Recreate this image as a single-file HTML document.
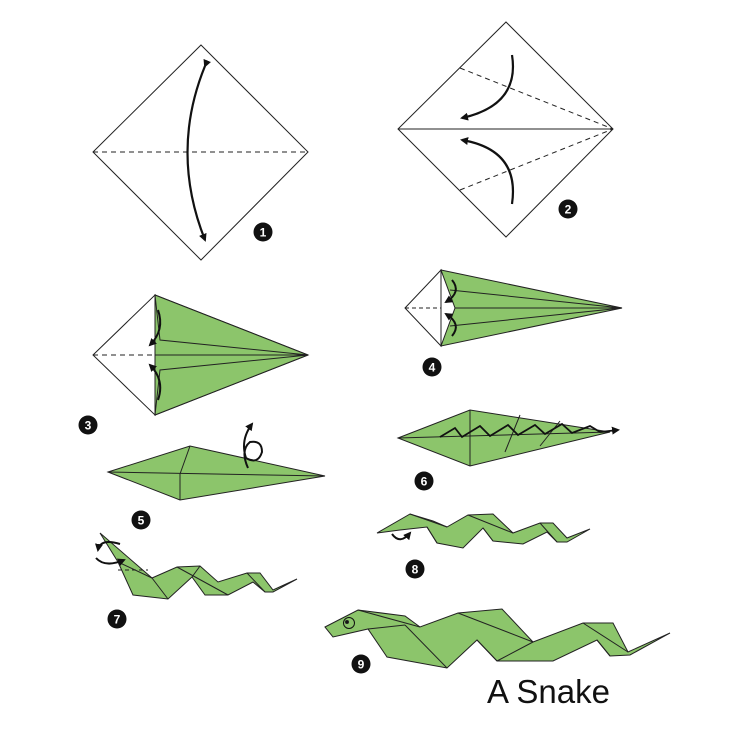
<!DOCTYPE html>
<html><head><meta charset="utf-8"><style>
html,body{margin:0;padding:0;background:#fff;width:736px;height:736px;overflow:hidden}
svg{display:block}
text{font-family:"Liberation Sans",sans-serif}
</style></head><body>
<svg width="736" height="736" viewBox="0 0 736 736">
<defs>
<marker id="ah" markerWidth="8" markerHeight="8" refX="6" refY="4" orient="auto" markerUnits="userSpaceOnUse"><path d="M0,0 L8,4 L0,8 Z" fill="#111"/></marker>
</defs>
<g stroke="#222" stroke-width="1" fill="none">
<!-- step 1 -->
<g>
<polygon points="201,45 308,152 201,260 93,152" fill="#fff"/>
<line x1="93" y1="152" x2="308" y2="152" stroke-dasharray="5,4"/>
<path d="M205,66 Q170,152 205,240" stroke="#111" stroke-width="2.2" marker-end="url(#ah)" marker-start="url(#ah)"/>
</g>
<!-- step 2 -->
<g>
<polygon points="506,22 613,129 506,237 398,129" fill="#fff"/>
<line x1="398" y1="129" x2="613" y2="129"/>
<line x1="460" y1="68" x2="613" y2="129" stroke-dasharray="5,4"/>
<line x1="460" y1="190" x2="613" y2="129" stroke-dasharray="5,4"/>
<path d="M512,55 Q520,105 462,118" stroke="#111" stroke-width="2.2" marker-end="url(#ah)"/>
<path d="M512,204 Q520,150 462,140" stroke="#111" stroke-width="2.2" marker-end="url(#ah)"/>
</g>
<!-- step 3 -->
<g>
<polygon points="93,355 155,295 155,415" fill="#fff"/>
<line x1="93" y1="355" x2="155" y2="355" stroke-dasharray="5,4"/>
<polygon points="155,295 308,355 155,415" fill="#8cc56b"/>
<polygon points="155,295 308,355 160,340" fill="#8cc56b"/>
<polygon points="155,415 308,355 160,370" fill="#8cc56b"/>
<line x1="155" y1="355" x2="308" y2="355"/>
<path d="M158,310 Q165,330 150,345" stroke="#111" stroke-width="2" marker-end="url(#ah)"/>
<path d="M158,400 Q165,380 150,365" stroke="#111" stroke-width="2" marker-end="url(#ah)"/>
</g>
<!-- step 4 -->
<g>
<polygon points="405,308 441,270 441,346" fill="#fff"/>
<line x1="405" y1="308" x2="441" y2="308" stroke-dasharray="4,3"/>
<polygon points="441,270 622,308 441,346 455,308" fill="#8cc56b"/>
<line x1="455" y1="308" x2="622" y2="308"/>
<line x1="450" y1="290" x2="622" y2="308"/>
<line x1="450" y1="326" x2="622" y2="308"/>
<path d="M452,280 Q462,292 446,302" stroke="#111" stroke-width="2" marker-end="url(#ah)"/>
<path d="M452,336 Q462,324 446,314" stroke="#111" stroke-width="2" marker-end="url(#ah)"/>
</g>
<!-- step 5 -->
<g>
<polygon points="108,472 190,446 325,476 180,500" fill="#8cc56b"/>
<line x1="108" y1="472" x2="325" y2="476"/>
<line x1="190" y1="446" x2="180" y2="474"/>
<line x1="180" y1="474" x2="180" y2="500"/>
<path d="M248,468 Q240,450 250,442 Q262,440 262,452 Q258,465 246,458 Q240,440 252,424" stroke="#111" stroke-width="2" marker-end="url(#ah)"/>
</g>
<!-- step 6 -->
<g>
<polygon points="398,438 470,410 610,432 470,466" fill="#8cc56b"/>
<line x1="398" y1="438" x2="610" y2="432"/>
<line x1="470" y1="410" x2="470" y2="466"/>
<line x1="520" y1="415" x2="505" y2="452"/>
<line x1="560" y1="421" x2="540" y2="446"/>
<path d="M440,437 L455,428 L462,437 L480,426 L490,436 L508,425 L518,435 L535,425 L545,434 L562,424 L572,433 L590,426 L600,432 L618,430" stroke="#111" stroke-width="1.8" marker-end="url(#ah)"/>
</g>
<!-- step 7 -->
<g>
<polygon points="100,533 152,578 177,567 200,566 218,582 247,573 260,573 273,590 297,579 273,592 265,592 253,582 228,595 205,595 192,577 168,599 133,595 118,562" fill="#8cc56b"/>
<line x1="118" y1="562" x2="152" y2="578"/>
<line x1="152" y1="578" x2="168" y2="599"/>
<line x1="177" y1="567" x2="228" y2="595"/>
<line x1="200" y1="566" x2="192" y2="577"/>
<line x1="247" y1="573" x2="265" y2="592"/>
<line x1="118" y1="570" x2="148" y2="570" stroke-dasharray="4,3"/>
<path d="M120,544 Q100,538 98,550" stroke="#111" stroke-width="2" marker-end="url(#ah)"/>
<path d="M96,558 Q105,568 124,560" stroke="#111" stroke-width="2" marker-end="url(#ah)"/>
</g>
<!-- step 8 -->
<g>
<polygon points="377,533 410,514 433,521 447,527 468,515 493,514 513,533 540,523 553,523 567,538 590,529 567,542 557,542 547,532 523,544 493,541 483,528 463,548 437,543 427,527 400,530" fill="#8cc56b"/>
<line x1="410" y1="514" x2="447" y2="527"/>
<line x1="427" y1="527" x2="437" y2="543"/>
<line x1="468" y1="515" x2="513" y2="533"/>
<line x1="483" y1="528" x2="493" y2="541"/>
<line x1="540" y1="523" x2="557" y2="542"/>
<path d="M392,534 Q400,545 410,533" stroke="#111" stroke-width="2" marker-end="url(#ah)"/>
</g>
<!-- step 9 -->
<g>
<polygon points="325,627 358,610 405,616 420,627 458,613 502,609 533,642 583,623 613,623 628,652 670,633 630,655 610,656 597,640 553,661 497,661 477,640 447,668 387,657 368,629 333,637" fill="#8cc56b"/>
<line x1="358" y1="610" x2="420" y2="627"/>
<line x1="368" y1="629" x2="405" y2="625"/>
<line x1="405" y1="625" x2="447" y2="668"/>
<line x1="458" y1="613" x2="533" y2="642"/>
<line x1="533" y1="642" x2="497" y2="661"/>
<line x1="477" y1="640" x2="497" y2="661"/>
<line x1="583" y1="623" x2="628" y2="652"/>
<line x1="597" y1="640" x2="610" y2="656"/>
<circle cx="349" cy="623" r="5.5" fill="none" stroke="#111"/>
<circle cx="347" cy="622" r="1.5" fill="#111"/>
</g>
</g>
<g font-size="12" font-weight="bold" fill="#fff" text-anchor="middle">
<circle cx="263" cy="232" r="9.5" fill="#111"/><text x="263" y="236.5">1</text>
<circle cx="568" cy="209" r="9.5" fill="#111"/><text x="568" y="213.5">2</text>
<circle cx="88" cy="425" r="9.5" fill="#111"/><text x="88" y="429.5">3</text>
<circle cx="432" cy="367" r="9.5" fill="#111"/><text x="432" y="371.5">4</text>
<circle cx="141" cy="520" r="9.5" fill="#111"/><text x="141" y="524.5">5</text>
<circle cx="424" cy="481" r="9.5" fill="#111"/><text x="424" y="485.5">6</text>
<circle cx="117" cy="619" r="9.5" fill="#111"/><text x="117" y="623.5">7</text>
<circle cx="415" cy="569" r="9.5" fill="#111"/><text x="415" y="573.5">8</text>
<circle cx="361" cy="664" r="9.5" fill="#111"/><text x="361" y="668.5">9</text>
</g>
<text x="487" y="703" font-size="33" fill="#111">A Snake</text>
</svg>
</body></html>
